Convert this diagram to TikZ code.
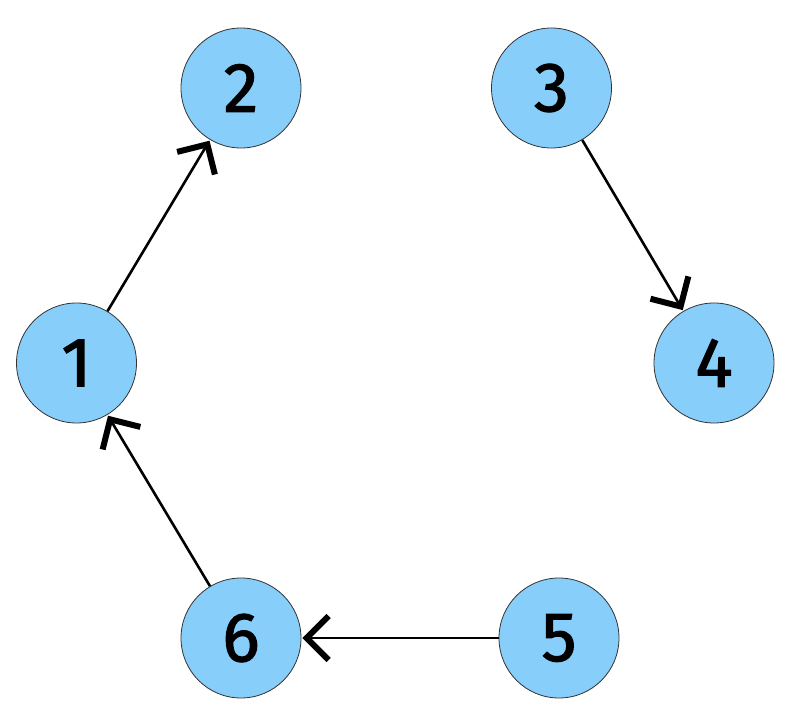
\documentclass[tikz,border=0pt]{standalone}
\usepackage{fontspec}
\newfontfamily\numfont{Fira Sans}[FakeBold=1.6]
\usetikzlibrary{arrows.meta}
\definecolor{nodefill}{HTML}{87CEFA}
\tikzset{
  vert/.style={circle, draw=black!80, line width=0.8pt, fill=nodefill, minimum size=120pt, inner sep=0pt, font=\numfont\fontsize{70}{70}\selectfont},
  edge/.style={line width=2.6pt, -{Straight Barb[length=22pt,width=44pt,line width=6pt]}, shorten >=1pt}
}
\begin{document}
\begin{tikzpicture}[x=1pt,y=-1pt]
\useasboundingbox (0,0) rectangle (795,717);
\node[vert] (n1) at (76.5,363) {1};
\node[vert] (n2) at (241,88) {2};
\node[vert] (n3) at (551.5,88) {3};
\node[vert] (n4) at (714,363) {4};
\node[vert] (n5) at (559,638) {5};
\node[vert] (n6) at (241,638) {6};
\draw[edge] (n1) -- (n2);
\draw[edge] (n3) -- (n4);
\draw[edge] (n5) -- (n6);
\draw[edge] (n6) -- (n1);
\end{tikzpicture}
\end{document}
